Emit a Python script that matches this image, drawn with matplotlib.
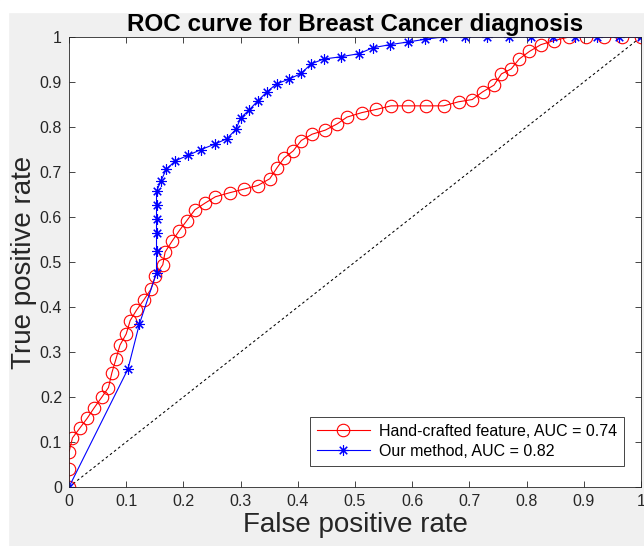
import matplotlib.pyplot as plt
from matplotlib.patches import Rectangle

plt.rcParams['font.family'] = ['Liberation Sans', 'DejaVu Sans']

# Hand-crafted feature ROC points
fpr_hand = [0, 0, 0, 0.006, 0.019, 0.032, 0.044, 0.057, 0.069, 0.075, 0.082, 0.089,
            0.100, 0.107, 0.118, 0.131, 0.143, 0.151, 0.164, 0.168, 0.180, 0.193,
            0.206, 0.220, 0.238, 0.256, 0.281, 0.306, 0.330, 0.351, 0.364, 0.376,
            0.392, 0.406, 0.425, 0.448, 0.469, 0.486, 0.512, 0.537, 0.563, 0.592,
            0.624, 0.655, 0.681, 0.705, 0.723, 0.743, 0.756, 0.773, 0.787, 0.805,
            0.825, 0.848, 0.874, 0.904, 0.935, 0.967, 1.0]
tpr_hand = [0, 0.040, 0.077, 0.109, 0.131, 0.153, 0.176, 0.199, 0.221, 0.254, 0.284, 0.315,
            0.340, 0.370, 0.393, 0.416, 0.439, 0.469, 0.494, 0.522, 0.546, 0.570,
            0.592, 0.616, 0.631, 0.645, 0.654, 0.662, 0.670, 0.685, 0.710, 0.731,
            0.747, 0.770, 0.784, 0.793, 0.807, 0.822, 0.832, 0.839, 0.847, 0.847,
            0.847, 0.847, 0.856, 0.861, 0.878, 0.893, 0.918, 0.929, 0.951, 0.968,
            0.983, 0.992, 1.0, 1.0, 1.0, 1.0, 1.0]

# Our method ROC points
fpr_ours = [0, 0.103, 0.123, 0.153, 0.153, 0.153, 0.153, 0.153, 0.153, 0.161, 0.170,
            0.186, 0.208, 0.231, 0.255, 0.276, 0.292, 0.300, 0.315, 0.330, 0.346,
            0.363, 0.384, 0.406, 0.423, 0.445, 0.475, 0.507, 0.531, 0.561, 0.593,
            0.623, 0.653, 0.692, 0.730, 0.769, 0.807, 0.846, 0.884, 0.923, 0.961, 1.0]
tpr_ours = [0, 0.262, 0.362, 0.476, 0.525, 0.564, 0.595, 0.627, 0.657, 0.681, 0.706,
            0.725, 0.737, 0.750, 0.762, 0.774, 0.795, 0.820, 0.838, 0.858, 0.878,
            0.896, 0.906, 0.919, 0.940, 0.951, 0.956, 0.963, 0.976, 0.983, 0.989,
            0.995, 1.0, 1.0, 1.0, 1.0, 1.0, 1.0, 1.0, 1.0, 1.0, 1.0]

ticks = [0, 0.1, 0.2, 0.3, 0.4, 0.5, 0.6, 0.7, 0.8, 0.9, 1]
tick_labels = ['0', '0.1', '0.2', '0.3', '0.4', '0.5', '0.6', '0.7', '0.8', '0.9', '1']

fig = plt.figure(figsize=(6.44, 5.46), dpi=100, facecolor='#f0f0f0')
# white margins from the original screenshot crop
fig.patches.append(Rectangle((0, 0), 8 / 644, 1, transform=fig.transFigure,
                             color='white', zorder=0))
fig.patches.append(Rectangle((0, 1 - 12 / 546), 1, 12 / 546, transform=fig.transFigure,
                             color='white', zorder=0))

ax = fig.add_axes([69 / 644, 59 / 546, 572 / 644, 450 / 546])
ax.set_facecolor('white')

ax.plot([0, 1], [0, 1], color='black', linestyle=(0, (2.5, 2.5)), linewidth=0.75)
ax.plot(fpr_hand, tpr_hand, color='red', linewidth=0.8, marker='o', markersize=9,
        markerfacecolor='none', markeredgewidth=0.8,
        label='Hand-crafted feature, AUC = 0.74')
ax.plot(fpr_ours, tpr_ours, color='blue', linewidth=0.8, marker=(8, 2, 0), markersize=7.5,
        markeredgewidth=0.8, label='Our method, AUC = 0.82')

ax.set_xlim(0, 1)
ax.set_ylim(0, 1)
ax.set_xticks(ticks)
ax.set_xticklabels(tick_labels)
ax.set_yticks(ticks)
ax.set_yticklabels(tick_labels)
ax.tick_params(direction='in', length=4.5, width=0.6, top=True, right=True,
               labelsize=11.5, colors='#262626', pad=5)
for s in ax.spines.values():
    s.set_color('#262626')
    s.set_linewidth(0.6)

ax.set_xlabel('False positive rate', fontsize=20, color='#262626', labelpad=2)
ax.set_ylabel('True positive rate', fontsize=20, color='#262626', labelpad=2)
ax.set_title('ROC curve for Breast Cancer diagnosis', fontsize=17.5, fontweight='bold',
             pad=4)

leg = ax.legend(loc='lower right', bbox_to_anchor=(0.971, 0.047), borderaxespad=0,
                fontsize=11.5, fancybox=False, framealpha=1, edgecolor='#262626',
                handlelength=3.3, borderpad=0.45, labelspacing=0.3, handletextpad=0.6)
leg.get_frame().set_linewidth(0.6)

fig.savefig('out.png', dpi=100, facecolor=fig.get_facecolor())
